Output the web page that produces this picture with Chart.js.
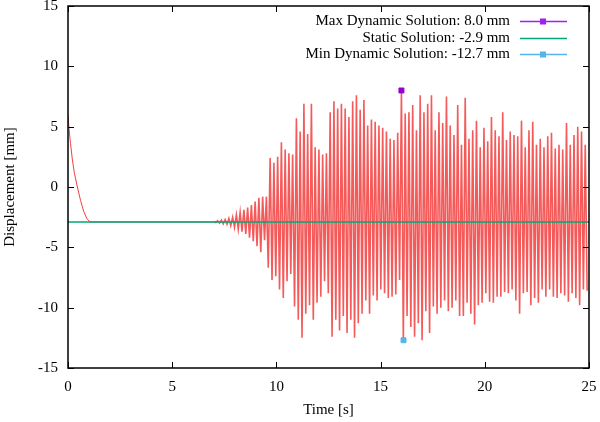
<!DOCTYPE html>
<html>
<head>
<meta charset="utf-8">
<script src="https://cdn.jsdelivr.net/npm/chart.js@4"></script>
<style>
  body { margin: 0; background: #fff; }
  #chart { display: block; }
</style>
</head>
<body>
<canvas id="chart" width="600" height="422"></canvas>
<script>
// start-up transient (time [s], displacement [mm])
const decayTimes = [0, 0.05, 0.12, 0.2, 0.3, 0.45, 0.6, 0.75, 0.9, 1.05, 6.8, 7.0];
const decayValues = [5.9, 4.8, 3.6, 2.4, 1.2, 0.0, -1.1, -2.0, -2.6, -2.9, -2.9, -2.9];

// oscillation: one peak and one trough per cycle
const oscStart = 7.0;
const oscPeriod = 0.18;
const peaks = [
  -2.85, -2.8, -2.75, -2.7, -2.6, -2.5, -2.3, -2.1, -1.9, -1.7,
  -1.5, -1.2, -0.9, -0.8, -0.8, 2.4, 2.0, 2.5, 3.7, 3.1,
  2.8, 2.7, 5.7, 4.6, 6.9, 4.4, 6.9, 3.3, 3.1, 2.7,
  2.8, 6.2, 7.1, 6.5, 6.9, 6.5, 5.8, 7.1, 7.6, 6.4,
  7.2, 5.1, 5.6, 5.4, 5.1, 4.9, 4.6, 4.0, 3.9, 4.5,
  8.0, 6.1, 6.2, 6.8, 4.7, 7.6, 6.2, 6.9, 7.6, 4.7,
  6.2, 5.3, 7.5, 5.1, 4.3, 6.8, 3.5, 7.4, 4.0, 4.7,
  5.5, 3.3, 4.9, 3.8, 5.8, 4.7, 4.2, 6.2, 3.9, 4.6,
  4.3, 4.2, 5.5, 3.3, 4.7, 5.4, 3.5, 4.0, 3.3, 4.2,
  4.5, 3.2, 3.5, 3.1, 5.3, 3.5, 4.3, 5.0, 4.6, 3.5
];
const troughs = [
  -2.95, -3.0, -3.05, -3.1, -3.2, -3.35, -3.5, -3.7, -3.9, -4.2,
  -4.5, -4.9, -5.4, -4.4, -6.7, -7.7, -7.4, -8.5, -9.2, -7.8,
  -7.2, -9.9, -11.0, -12.5, -10.5, -9.8, -11.0, -9.6, -9.1, -7.8,
  -8.8, -12.4, -11.0, -11.9, -10.7, -12.1, -11.0, -12.5, -11.3, -10.5,
  -9.4, -10.5, -9.0, -9.4, -8.5, -8.8, -9.2, -9.1, -8.9, -7.7,
  -12.7, -10.7, -11.6, -12.4, -11.3, -12.7, -10.3, -12.1, -9.9, -10.5,
  -10.0, -9.4, -10.3, -10.0, -9.4, -10.7, -10.7, -9.6, -10.5, -11.4,
  -9.8, -9.6, -8.8, -9.5, -9.6, -9.1, -9.1, -8.7, -8.8, -8.5,
  -9.4, -10.5, -8.8, -8.7, -9.8, -9.2, -9.6, -8.5, -9.1, -8.5,
  -9.1, -9.2, -8.8, -9.0, -9.5, -8.8, -9.2, -9.8, -8.5, -8.6
];

const staticValue = -2.9;
const maxPoint = { t: 16.0, v: 8.0 };
const minPoint = { t: 16.1, v: -12.7 };

const xTicks = [0, 5, 10, 15, 20, 25];
const yTicks = [-15, -10, -5, 0, 5, 10, 15];

const legendItems = [
  { label: "Max Dynamic Solution: 8.0 mm", color: "#a020f0", marker: true },
  { label: "Static Solution: -2.9 mm", color: "#00a878", marker: false },
  { label: "Min Dynamic Solution: -12.7 mm", color: "#56b4e9", marker: true }
];

const FONT = "'Liberation Serif', 'DejaVu Serif', serif";

// build the signal
const transient = decayTimes.map((t, i) => ({ x: t, y: decayValues[i] }));
const oscillation = [];
peaks.forEach((p, k) => {
  const t = oscStart + k * oscPeriod;
  oscillation.push({ x: t, y: p });
  oscillation.push({ x: t + oscPeriod / 2, y: troughs[k] });
});

// drop the automatic label padding so the plot box sits where gnuplot put it
function noPad(s) {
  s.paddingTop = 0; s.paddingBottom = 0;
  s.paddingLeft = 0; s.paddingRight = 0;
}

const frame = {
  id: "frame",
  afterDraw(chart) {
    const { ctx, chartArea: a, scales } = chart;
    ctx.save();
    ctx.strokeStyle = "#000";
    ctx.lineWidth = 1;
    const tl = 6;
    ctx.beginPath();
    xTicks.forEach(v => {
      const px = Math.round(scales.x.getPixelForValue(v)) + 0.5;
      ctx.moveTo(px, a.bottom); ctx.lineTo(px, a.bottom - tl);
      ctx.moveTo(px, a.top); ctx.lineTo(px, a.top + tl);
    });
    yTicks.forEach(v => {
      const py = Math.round(scales.y.getPixelForValue(v)) + 0.5;
      ctx.moveTo(a.left, py); ctx.lineTo(a.left + tl, py);
      ctx.moveTo(a.right, py); ctx.lineTo(a.right - tl, py);
    });
    ctx.stroke();
    ctx.lineWidth = 1.5;
    ctx.strokeRect(a.left, a.top, a.right - a.left, a.bottom - a.top);

    // gnuplot-like key
    ctx.font = "15px " + FONT;
    ctx.textAlign = "right";
    ctx.textBaseline = "middle";
    legendItems.forEach((it, i) => {
      const y = Math.round(21 + i * 16.6);
      ctx.fillStyle = "#000";
      ctx.fillText(it.label, 510, y);
      ctx.strokeStyle = it.color;
      ctx.lineWidth = 1.3;
      ctx.beginPath();
      ctx.moveTo(520, y + 0.5); ctx.lineTo(567, y + 0.5);
      ctx.stroke();
      if (it.marker) {
        ctx.fillStyle = it.color;
        ctx.fillRect(540, y - 2.5, 6, 6);
      }
    });
    ctx.restore();
  }
};

new Chart(document.getElementById("chart"), {
  type: "line",
  data: {
    datasets: [
      {
        data: [{ x: maxPoint.t, y: maxPoint.v }],
        showLine: false,
        pointStyle: "rect",
        pointRadius: 3.5,
        pointBackgroundColor: "#9400d3",
        pointBorderColor: "#9400d3"
      },
      {
        data: [{ x: minPoint.t, y: minPoint.v }],
        showLine: false,
        pointStyle: "rect",
        pointRadius: 3.5,
        pointBackgroundColor: "#56b4e9",
        pointBorderColor: "#56b4e9"
      },
      {
        data: [{ x: 0, y: staticValue }, { x: 25, y: staticValue }],
        borderColor: "#00a878",
        borderWidth: 1.5,
        pointRadius: 0
      },
      {
        data: transient,
        borderColor: "rgba(240, 30, 30, 0.85)",
        borderWidth: 1,
        pointRadius: 0,
        tension: 0
      },
      {
        data: oscillation,
        borderColor: "rgba(240, 20, 20, 0.7)",
        borderWidth: 1.6,
        pointRadius: 0,
        tension: 0
      }
    ]
  },
  options: {
    responsive: false,
    animation: false,
    events: [],
    layout: { padding: { top: 6, right: 11, left: 0, bottom: 0 } },
    plugins: { legend: { display: false }, tooltip: { enabled: false } },
    scales: {
      x: {
        type: "linear",
        min: 0,
        max: 25,
        afterFit: s => { s.height = 54; noPad(s); },
        afterBuildTicks: s => { s.ticks = xTicks.map(v => ({ value: v })); },
        grid: { display: false, drawTicks: false },
        border: { display: false },
        ticks: { color: "#000", padding: 10, maxRotation: 0, font: { family: FONT, size: 15 } },
        title: { display: true, text: "Time [s]", color: "#000", padding: { top: 0, bottom: 3 }, font: { family: FONT, size: 15 } }
      },
      y: {
        min: -15,
        max: 15,
        afterFit: s => { s.width = 68; noPad(s); },
        afterBuildTicks: s => { s.ticks = yTicks.map(v => ({ value: v })); },
        grid: { display: false, drawTicks: false },
        border: { display: false },
        ticks: { color: "#000", padding: 10, font: { family: FONT, size: 15 } },
        title: { display: true, text: "Displacement [mm]", color: "#000", padding: { top: 1, bottom: 0 }, font: { family: FONT, size: 15 } }
      }
    }
  },
  plugins: [frame]
});
</script>
</body>
</html>
